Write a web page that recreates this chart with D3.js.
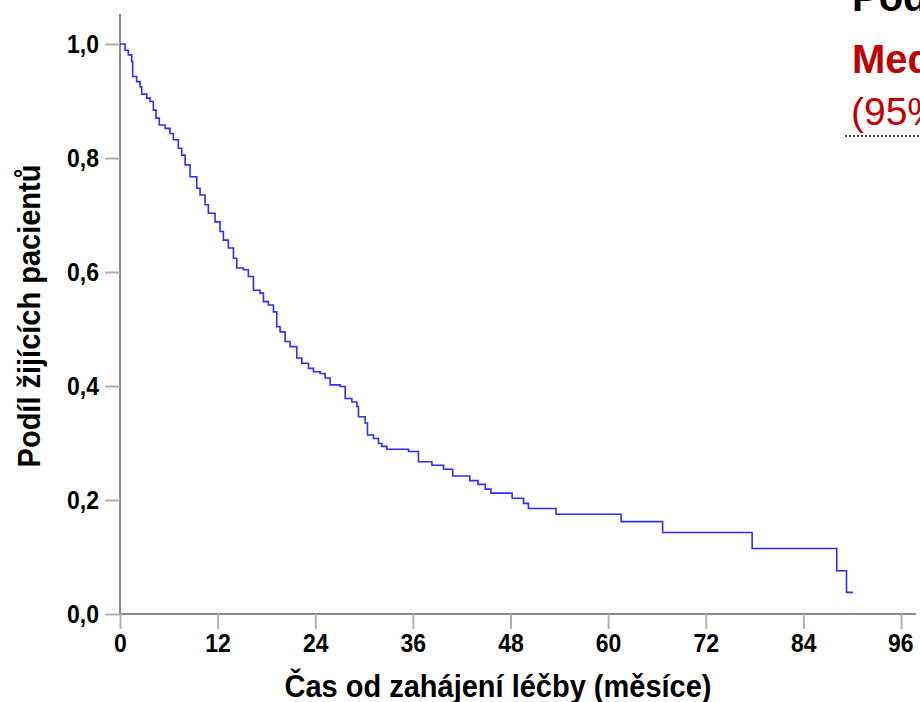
<!DOCTYPE html>
<html>
<head>
<meta charset="utf-8">
<script src="https://cdn.jsdelivr.net/npm/d3@7"></script>
<style>
html,body{margin:0;padding:0;background:#fff;}
svg{display:block;}
</style>
</head>
<body>
<svg id="chart" width="920" height="702"></svg>
<script>
// Kaplan–Meier step data (months, survival proportion)
const eventTimes = [0, 0.62, 1.02, 1.44, 1.56, 2.05, 2.46, 2.67, 3.28, 3.69, 4.10, 4.43, 4.83, 5.54, 6.15, 6.56, 7.17, 7.59, 8.0, 8.61, 9.43, 9.84, 10.46, 10.86, 11.69, 12.30, 12.71, 13.32, 13.94, 14.35, 15.17, 15.78, 16.40, 17.22, 17.63, 18.24, 18.86, 19.27, 19.68, 20.30, 20.91, 21.73, 22.35, 23.16, 23.78, 24.60, 25.22, 25.83, 27.06, 27.68, 28.50, 29.11, 29.31, 30.14, 30.42, 31.16, 31.77, 32.19, 32.80, 35.46, 36.69, 38.34, 39.77, 40.9, 43.0, 44.0, 44.9, 45.6, 48.2, 49.6, 50.2, 53.6, 61.6, 66.7, 77.7, 88.1, 89.3, 90.1];
const survival = [1.0, 0.989, 0.981, 0.969, 0.943, 0.934, 0.925, 0.912, 0.905, 0.899, 0.884, 0.870, 0.858, 0.852, 0.843, 0.832, 0.817, 0.805, 0.788, 0.767, 0.747, 0.735, 0.718, 0.703, 0.688, 0.671, 0.656, 0.642, 0.624, 0.607, 0.604, 0.592, 0.568, 0.563, 0.548, 0.542, 0.530, 0.504, 0.495, 0.478, 0.469, 0.449, 0.440, 0.431, 0.425, 0.422, 0.414, 0.402, 0.399, 0.378, 0.372, 0.364, 0.346, 0.335, 0.314, 0.308, 0.299, 0.294, 0.289, 0.285, 0.267, 0.261, 0.254, 0.242, 0.234, 0.2275, 0.219, 0.212, 0.203, 0.194, 0.185, 0.175, 0.162, 0.143, 0.115, 0.076, 0.038, 0.038];

const xTicks = [0, 12, 24, 36, 48, 60, 72, 84, 96];
const yTicks = [0, 0.2, 0.4, 0.6, 0.8, 1.0];
const xTitle = "Čas od zahájení léčby (měsíce)";
const yTitle = "Podíl žijících pacientů";
const headerTexts = ["Podíl pacientů", "Medián přežití", "(95% CI)"];

const svg = d3.select("#chart");
const x = d3.scaleLinear().domain([0, 96]).range([120, 901]);
const y = d3.scaleLinear().domain([0, 1]).range([614, 44]);
const axisColor = "#8a8a8a";
const font = "'Liberation Sans', Arial, sans-serif";

// axis lines
svg.append("line").attr("x1", 120).attr("x2", 120).attr("y1", 14).attr("y2", 614)
  .attr("stroke", axisColor).attr("stroke-width", 2);
svg.append("line").attr("x1", 120).attr("x2", 916).attr("y1", 614).attr("y2", 614)
  .attr("stroke", axisColor).attr("stroke-width", 2);

// y axis
const yAxis = d3.axisLeft(y).tickValues(yTicks).tickSize(15).tickPadding(6)
  .tickFormat(d => d3.format(".1f")(d).replace(".", ","));
const gy = svg.append("g").attr("transform", "translate(120,0)").call(yAxis);
gy.select(".domain").remove();
gy.selectAll(".tick line").attr("stroke", "#b0b0b0").attr("stroke-width", 2);
gy.selectAll(".tick text").attr("font-family", font).attr("font-weight", "bold")
  .attr("font-size", 23).attr("fill", "#000").attr("transform", "scale(1,1.12)");

// x axis
const xAxis = d3.axisBottom(x).tickValues(xTicks).tickSize(15).tickPadding(3)
  .tickFormat(d3.format("d"));
const gx = svg.append("g").attr("transform", "translate(0,614)").call(xAxis);
gx.select(".domain").remove();
gx.selectAll(".tick line").attr("stroke", "#b0b0b0").attr("stroke-width", 2);
gx.selectAll(".tick text").attr("font-family", font).attr("font-weight", "bold")
  .attr("font-size", 23).attr("fill", "#000").attr("transform", "scale(1,1.12)");
gx.selectAll(".tick text").filter(d => d === 96).attr("text-anchor", "end").attr("dx", "12");

// axis titles
svg.append("text").attr("transform", "translate(498,697) scale(1,1.1)").attr("text-anchor", "middle")
  .attr("font-family", font).attr("font-weight", "bold").attr("font-size", 29)
  .text(xTitle);
svg.append("text").attr("transform", "translate(40,316) rotate(-90) scale(1,1.05)")
  .attr("text-anchor", "middle").attr("font-family", font).attr("font-weight", "bold")
  .attr("font-size", 29).text(yTitle);

// KM curve
const pts = eventTimes.map((t, i) => [t, survival[i]]);
const line = d3.line().x(d => x(d[0])).y(d => y(d[1])).curve(d3.curveStepAfter);
svg.append("path").datum(pts).attr("d", line).attr("fill", "none")
  .attr("stroke", "#2d2dff").attr("stroke-width", 1.6);

// header texts (clipped at the right edge)
svg.append("text").attr("x", 852).attr("y", 11).attr("font-family", font)
  .attr("font-weight", "bold").attr("font-size", 40).attr("fill", "#000").text(headerTexts[0]);
svg.append("text").attr("x", 852).attr("y", 73).attr("font-family", font)
  .attr("font-weight", "bold").attr("font-size", 40).attr("fill", "#c00000").text(headerTexts[1]);
svg.append("text").attr("x", 851).attr("y", 125).attr("font-family", font)
  .attr("font-size", 39).attr("fill", "#c00000").text(headerTexts[2]);
svg.append("line").attr("x1", 845).attr("x2", 920).attr("y1", 136).attr("y2", 136)
  .attr("stroke", "#000").attr("stroke-width", 1.5).attr("stroke-dasharray", "2,2");
</script>
</body>
</html>
